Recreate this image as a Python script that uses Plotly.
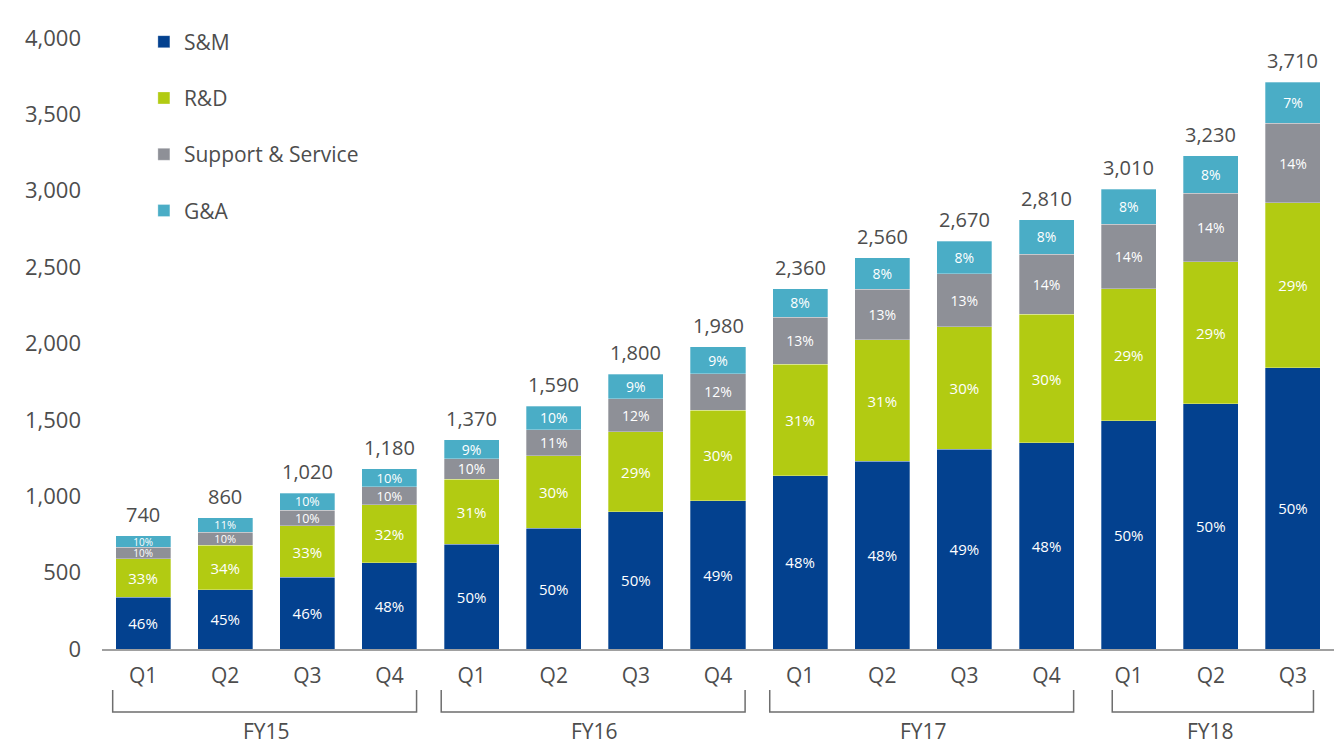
import plotly.graph_objects as go

quarters = ["Q1", "Q2", "Q3", "Q4", "Q1", "Q2", "Q3", "Q4", "Q1", "Q2", "Q3", "Q4", "Q1", "Q2", "Q3"]
fiscal_years = ["FY15", "FY16", "FY17", "FY18"]
fy_first_last = [(0, 3), (4, 7), (8, 11), (12, 14)]

totals = [740, 860, 1020, 1180, 1370, 1590, 1800, 1980, 2360, 2560, 2670, 2810, 3010, 3230, 3710]

sm_vals = [340, 387, 469, 566, 685, 790, 900, 970, 1133, 1229, 1308, 1349, 1493, 1604, 1840]
rd_vals = [250, 292, 337, 378, 425, 475, 522, 594, 732, 794, 801, 843, 864, 930, 1080]
ss_vals = [76, 86, 102, 118, 137, 170, 216, 238, 307, 333, 347, 393, 425, 451, 523]
ga_vals = [74, 95, 112, 118, 123, 155, 162, 178, 188, 204, 214, 225, 228, 245, 267]

sm_pct = ["46%", "45%", "46%", "48%", "50%", "50%", "50%", "49%", "48%", "48%", "49%", "48%", "50%", "50%", "50%"]
rd_pct = ["33%", "34%", "33%", "32%", "31%", "30%", "29%", "30%", "31%", "31%", "30%", "30%", "29%", "29%", "29%"]
ss_pct = ["10%", "10%", "10%", "10%", "10%", "11%", "12%", "12%", "13%", "13%", "13%", "14%", "14%", "14%", "14%"]
ga_pct = ["10%", "11%", "10%", "10%", "9%", "10%", "9%", "9%", "8%", "8%", "8%", "8%", "8%", "8%", "7%"]

small_sizes = [10, 11, 12.5, 13, 14, 14, 14, 14, 14, 14, 14, 14, 14, 14, 14]
big_sizes = [15] * 15

series = [
    ("S&M", sm_vals, sm_pct, "#03418F", big_sizes),
    ("R&D", rd_vals, rd_pct, "#B2CB12", big_sizes),
    ("Support & Service", ss_vals, ss_pct, "#8E9097", small_sizes),
    ("G&A", ga_vals, ga_pct, "#4AADC6", small_sizes),
]

FONT = "Open Sans"
TXT = "#4D4D4D"
xs = list(range(len(quarters)))

fig = go.Figure()
for name, vals, pct, color, sizes in series:
    fig.add_trace(go.Bar(
        x=xs, y=vals, name=name, legendgroup=name,
        marker=dict(color=color, line=dict(width=0.6, color="rgba(255,255,255,0.5)")),
        text=pct, textposition="inside", insidetextanchor="middle", textangle=0,
        constraintext="none",
        textfont=dict(color="white", size=sizes, family=FONT),
        width=0.67,
    ))

for x, t in zip(xs, totals):
    fig.add_annotation(x=x, y=t, xref="x", yref="y", text=f"{t:,}", showarrow=False,
                       yanchor="bottom", yshift=6,
                       font=dict(size=20, color=TXT, family=FONT))

for fy, (a, b) in zip(fiscal_years, fy_first_last):
    if fy == "FY18":
        left, right = a - 0.2, b + 0.25
    else:
        left, right = a - 0.37, b + 0.33
    fig.add_shape(type="path", xref="x", yref="paper",
                  path=f"M {left},-0.067 L {left},-0.103 L {right},-0.103 L {right},-0.067",
                  line=dict(color="#6E6E6E", width=1.5))
    fig.add_annotation(x=(a + b) / 2, y=-0.134, xref="x", yref="paper", text=fy,
                       showarrow=False, font=dict(size=21, color=TXT, family=FONT),
                       yanchor="middle")

fig.update_layout(
    width=1334, height=740,
    barmode="stack",
    plot_bgcolor="white", paper_bgcolor="white",
    margin=dict(l=94, r=8, t=30, b=99),
    font=dict(family=FONT, color=TXT),
    showlegend=True,
    legend=dict(x=0.034, y=1.027, xanchor="left", yanchor="top",
                traceorder="grouped", tracegroupgap=26,
                font=dict(size=21, color=TXT, family=FONT),
                bgcolor="rgba(0,0,0,0)"),
    xaxis=dict(range=[-0.5, 14.5], tickvals=xs, ticktext=quarters,
               showline=True, linecolor="#A0A0A0", linewidth=1.5,
               showgrid=False, zeroline=False, ticks="",
               tickfont=dict(size=21, color=TXT, family=FONT),
               ticklabelstandoff=7),
    yaxis=dict(range=[0, 4000], tickvals=list(range(0, 4001, 500)), tickformat=",",
               showgrid=False, zeroline=False, showline=False, ticks="",
               tickfont=dict(size=22, color=TXT, family=FONT),
               ticklabelstandoff=20),
)

fig.write_html("out.html")
